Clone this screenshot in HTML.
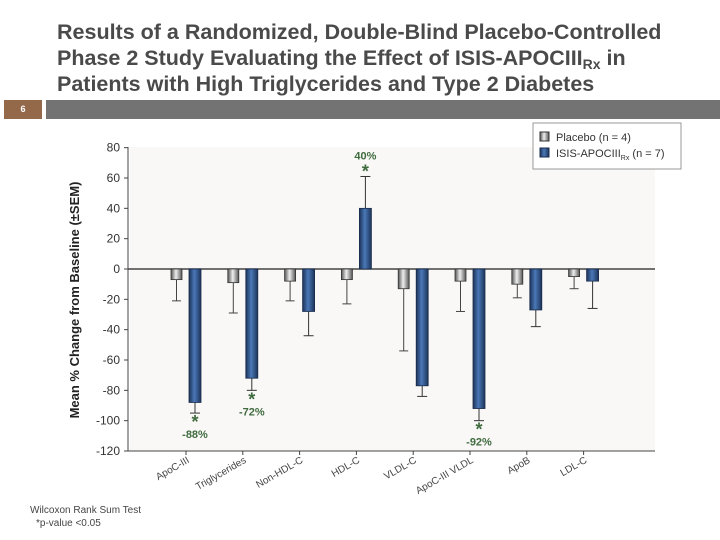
<!DOCTYPE html>
<html><head><meta charset="utf-8"><style>
body{margin:0;width:720px;height:540px;background:#fff;font-family:"Liberation Sans",sans-serif;overflow:hidden;position:relative}
#title{position:absolute;left:57px;top:19px;font-size:21.5px;font-weight:bold;color:#4a4a4a;line-height:26px;white-space:nowrap}
#title .sub{font-size:14px;position:relative;top:4px;line-height:0}
</style></head><body>
<div id="title">Results of a Randomized, Double-Blind Placebo-Controlled<br>Phase 2 Study Evaluating the Effect of ISIS-APOCIII<span class="sub">Rx</span> in<br>Patients with High Triglycerides and Type 2 Diabetes</div>
<div style="position:absolute;left:4px;top:100px;width:38px;height:19px;background:#94694a;color:#fff;font-size:9px;font-weight:bold;text-align:center;line-height:19px">6</div>
<div style="position:absolute;left:46px;top:100px;width:674px;height:19px;background:#737373"></div>
<svg id="chart" width="720" height="540" style="position:absolute;left:0;top:0">
<defs>
<linearGradient id="gp" x1="0" x2="1"><stop offset="0" stop-color="#555"/><stop offset="0.45" stop-color="#eee"/><stop offset="1" stop-color="#555"/></linearGradient>
<linearGradient id="gb" x1="0" x2="1"><stop offset="0" stop-color="#1c3358"/><stop offset="0.45" stop-color="#4a78b8"/><stop offset="1" stop-color="#1c3358"/></linearGradient>
</defs>
</svg>
<script>
const categories=["ApoC-III","Triglycerides","Non-HDL-C","HDL-C","VLDL-C","ApoC-III VLDL","ApoB","LDL-C"];
const placebo=[-7,-9,-8,-7,-13,-8,-10,-5];
const placeboErr=[-21,-29,-21,-23,-54,-28,-19,-13];
const drug=[-88,-72,-28,40,-77,-92,-27,-8];
const drugErr=[-95,-80,-44,61,-84,-100,-38,-26];
const annotations=["-88%","-72%","","40%","","-92%","",""];
const yTicks=[80,60,40,20,0,-20,-40,-60,-80,-100,-120];
const NS="http://www.w3.org/2000/svg";
const svg=document.getElementById('chart');
const y=v=>269-(v)*(451-269)/120;
const x=i=>186+i*56.8;
function mk(t,a,parent){const e=document.createElementNS(NS,t);for(const k in a)e.setAttribute(k,a[k]);(parent||svg).appendChild(e);return e;}
let bg=mk('rect',{x:130,y:147,width:525,height:304,fill:'#f9f8f6'});


mk('line',{x1:128,y1:147,x2:128,y2:451,stroke:'#444'});
mk('line',{x1:128,y1:451,x2:655,y2:451,stroke:'#444'});
yTicks.forEach(t=>{mk('line',{x1:124,y1:y(t),x2:128,y2:y(t),stroke:'#444'});
const tx=mk('text',{x:120,y:y(t)+4,'text-anchor':'end','font-size':12,fill:'#333'});tx.textContent=t;

});
const yt=mk('text',{transform:'translate(79,300) rotate(-90)','text-anchor':'middle','font-size':13,'font-weight':'bold',fill:'#222'});
yt.textContent='Mean % Change from Baseline (±SEM)';


mk('line',{x1:128,y1:269,x2:655,y2:269,stroke:'#444','stroke-width':1.5});
categories.forEach((c,i)=>{
const cx=x(i);
mk('line',{x1:cx,y1:451,x2:cx,y2:455,stroke:'#444'});
const lb=mk('text',{transform:`translate(${cx+4},${462}) rotate(-30)`,'text-anchor':'end','font-size':10,fill:'#444'});lb.textContent=c;


const px=cx-15;
mk('line',{x1:px+5.5,y1:y(placebo[i]),x2:px+5.5,y2:y(placeboErr[i]),stroke:'#444'});
mk('line',{x1:px+1,y1:y(placeboErr[i]),x2:px+10,y2:y(placeboErr[i]),stroke:'#444'});
const pb=mk('rect',{x:px,y:y(Math.max(0,placebo[i])),width:11,height:Math.abs(y(placebo[i])-y(0)),fill:'url(#gp)',stroke:'#333','stroke-width':0.8});


const dx=cx+3;
mk('line',{x1:dx+6,y1:y(drug[i]),x2:dx+6,y2:y(drugErr[i]),stroke:'#333'});
mk('line',{x1:dx+1,y1:y(drugErr[i]),x2:dx+11,y2:y(drugErr[i]),stroke:'#333'});
const db=mk('rect',{x:dx,y:y(Math.max(0,drug[i])),width:12,height:Math.abs(y(drug[i])-y(0)),fill:'url(#gb)',stroke:'#1a2c4c','stroke-width':0.8});


if(annotations[i]){
const up=drug[i]>0;const ey=y(drugErr[i]);
const s=mk('text',{x:dx+6,y:up?ey+1:ey+15,'text-anchor':'middle','font-size':18,'font-weight':'bold',fill:'#3f6b3f'});s.textContent='*';
const a=mk('text',{x:dx+6,y:up?ey-17:ey+25,'text-anchor':'middle','font-size':11,'font-weight':'bold',fill:'#3f6b3f'});a.textContent=annotations[i];

}
});
const lg=mk('g',{});


mk('rect',{x:533,y:123,width:148,height:46,fill:'#fff',stroke:'#999'},lg);
mk('rect',{x:540,y:132,width:9,height:9,fill:'url(#gp)',stroke:'#333'},lg);
mk('rect',{x:540,y:148,width:9,height:9,fill:'url(#gb)',stroke:'#1a2c4c'},lg);
const l1=mk('text',{x:556,y:141,'font-size':11,fill:'#333'},lg);l1.textContent='Placebo (n = 4)';
const l2=mk('text',{x:556,y:157,'font-size':11,fill:'#333'},lg);l2.innerHTML='ISIS-APOCIII<tspan font-size="7" dy="3">Rx</tspan><tspan dy="-3"> (n = 7)</tspan>';
const f1=mk('text',{x:30,y:513,'font-size':10,fill:'#444'});f1.textContent='Wilcoxon Rank Sum Test';


const f2=mk('text',{x:36,y:526,'font-size':10,fill:'#444'});f2.textContent='*p-value <0.05';


</script>
</body></html>
